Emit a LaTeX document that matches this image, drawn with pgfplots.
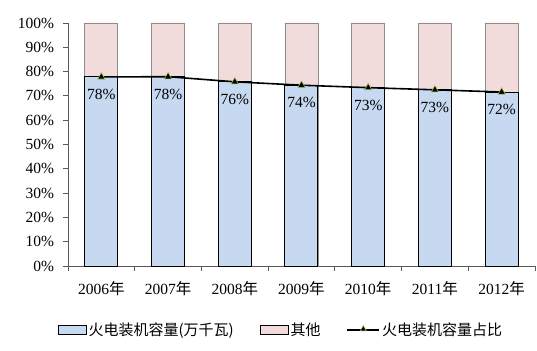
\documentclass[border=0pt]{standalone}
\usepackage{pgfplots}
\pgfplotsset{compat=1.18}
\usetikzlibrary{shapes.geometric}
\usepackage{fontspec}
\setmainfont{Liberation Serif}
\newfontfamily\cjk{Noto Sans CJK SC}
\definecolor{barblue}{HTML}{C6D9F1}
\definecolor{barpink}{HTML}{F2DCDB}
\definecolor{markgreen}{HTML}{9BBB59}
\begin{document}
\fontsize{15.5bp}{17bp}\selectfont
\begin{tikzpicture}
\begin{axis}[
  name=ax,
  width=467bp, height=243bp, scale only axis=true,
  xmin=-0.5, xmax=6.5, ymin=0, ymax=100,
  axis x line=bottom, axis y line=left,
  axis line style={black!65, line width=0.8bp, -},
  xtick={-0.5,0.5,...,6.5}, xticklabels={},
  extra x ticks={0,1,2,3,4,5,6},
  extra x tick style={major tick length=0pt},
  extra x tick labels={{2006{\cjk 年}},{2007{\cjk 年}},{2008{\cjk 年}},{2009{\cjk 年}},{2010{\cjk 年}},{2011{\cjk 年}},{2012{\cjk 年}}},
  ytick={0,10,...,100},
  yticklabel={\pgfmathprintnumber{\tick}\%},
  /pgf/number format/assume math mode=true,
  tick style={black!65, line width=0.8bp},
  major tick length=4.5bp,
  tick align=outside,
  xticklabel style={yshift=-10bp},
  yticklabel style={xshift=-4bp},
  ticklabel style={font=\fontsize{15.5bp}{17bp}\selectfont},
  legend columns=3,
  legend style={draw=none, fill=none, at={(0.456,-0.263)}, anchor=center,
    font=\fontsize{15bp}{17bp}\cjk, /tikz/every even column/.append style={column sep=24bp}},
  legend image code/.code={\draw[#1] (0bp,-4.5bp) rectangle (28bp,4.5bp);},
  clip=false,
]
\addlegendimage{fill=barblue, draw=black, line width=0.8bp}
\addlegendentry{火电装机容量(万千瓦)}
\addlegendimage{fill=barpink, draw=black, line width=0.8bp}
\addlegendentry{其他}
\addlegendimage{legend image code/.code={
   \draw[black, line width=1.6bp] (0bp,0bp) -- (32bp,0bp);
   \node[draw=markgreen, fill=black, regular polygon, regular polygon sides=3, inner sep=0pt, minimum size=7bp, line width=0.6bp] at (16bp,0.8bp) {};}}
\addlegendentry{火电装机容量占比}
\addplot[ybar, bar width=33bp, bar shift=0pt, fill=barpink, draw=black!45, line width=0.8bp, forget plot]
  coordinates {(0,100) (1,100) (2,100) (3,100) (4,100) (5,100) (6,100)};
\addplot[ybar, bar width=33bp, bar shift=0pt, fill=barblue, draw=black, line width=1bp, forget plot]
  coordinates {(0,77.8) (1,77.9) (2,75.8) (3,74.4) (4,73.4) (5,72.5) (6,71.6)};
\addplot[black, line width=1.6bp, mark=triangle*, mark size=4.2bp,
  mark options={fill=black, draw=markgreen, line width=0.6bp},
  point meta=explicit symbolic, nodes near coords,
  every node near coord/.append style={anchor=north, yshift=-7bp, font=\fontsize{15.5bp}{17bp}\selectfont, text=black},
  forget plot]
  coordinates {(0,77.8) [78\%] (1,77.9) [78\%] (2,75.8) [76\%] (3,74.4) [74\%] (4,73.4) [73\%] (5,72.5) [73\%] (6,71.6) [72\%]};
\end{axis}
\pgfresetboundingbox
\path (ax.south west) ++(-68bp,-85bp) rectangle ++(537bp,351bp);
\end{tikzpicture}
\end{document}
